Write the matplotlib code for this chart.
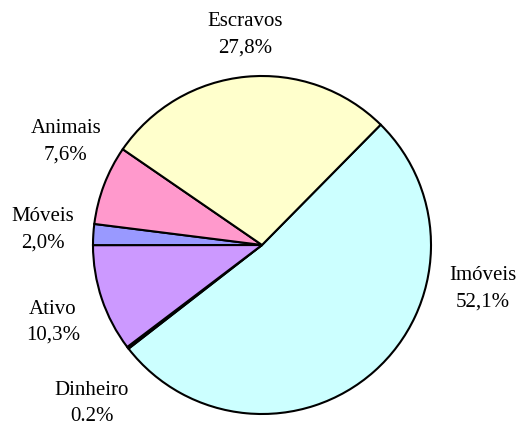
import matplotlib
matplotlib.use("Agg")
import matplotlib.pyplot as plt

categories = ["Imóveis", "Dinheiro", "Ativo", "Móveis", "Animais", "Escravos"]
values = [52.1, 0.2, 10.3, 2.0, 7.6, 27.8]
labels = ["52,1%", "0.2%", "10,3%", "2,0%", "7,6%", "27,8%"]
colors = ["#CCFFFF", "#333366", "#CC99FF", "#9999FF", "#FF99CC", "#FFFFCC"]

# label centre positions (in units of pie radius, relative to centre)
label_pos = [(1.308, -0.260), (-1.006, -0.935), (-1.237, -0.456),
             (-1.296, 0.089), (-1.160, 0.612), (-0.100, 1.243)]

plt.rcParams['font.family'] = ['Liberation Serif', 'DejaVu Serif']

fig = plt.figure(figsize=(5.2, 4.25), dpi=100)
ax = fig.add_axes([0, 0, 1, 1])
ax.pie(values, colors=colors, startangle=45.4, counterclock=False,
       radius=1.0, center=(0, 0),
       wedgeprops=dict(edgecolor='black', linewidth=1.5))
ax.set_xlim(-262/169, (520-262)/169)
ax.set_ylim((245-425)/169, 245/169)
ax.set_aspect('auto')
ax.axis('off')

for cat, lab, (x, y) in zip(categories, labels, label_pos):
    ax.text(x, y, f"{cat}\n{lab}", ha='center', va='center', fontsize=15,
            linespacing=1.5, color='black')

fig.savefig("out.png", dpi=100)
